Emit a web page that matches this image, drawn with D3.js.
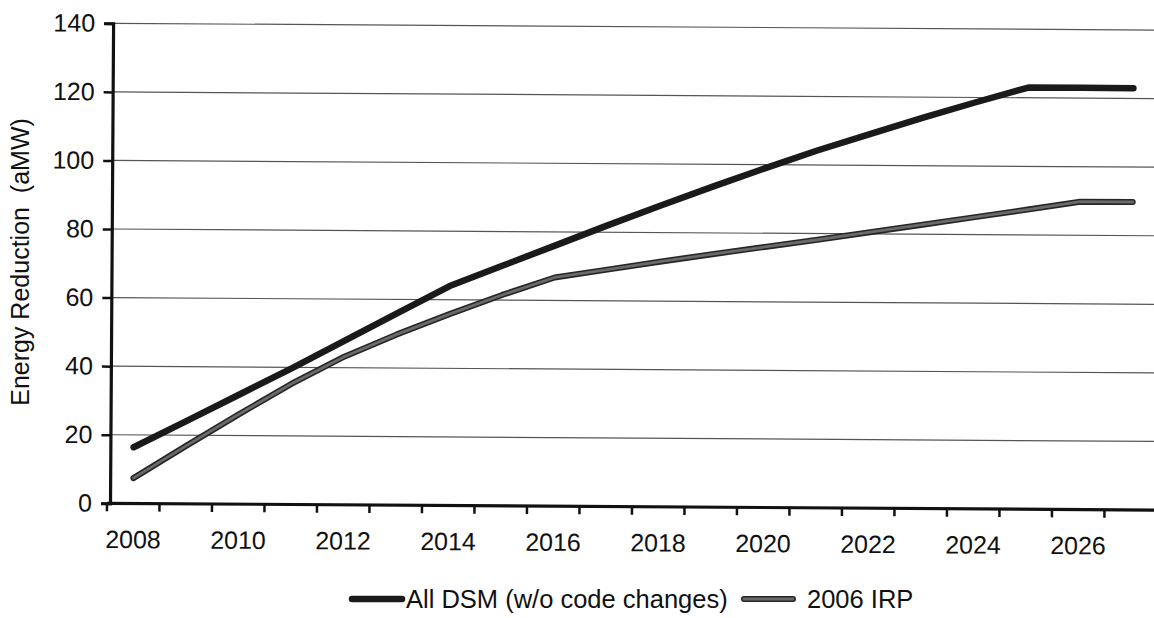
<!DOCTYPE html>
<html>
<head>
<meta charset="utf-8">
<script src="https://cdn.jsdelivr.net/npm/d3@7"></script>
<style>
  html, body { margin: 0; padding: 0; background: #fff; }
  svg { display: block; }
  text { font-family: "Liberation Sans", Arial, sans-serif; fill: #111; }
</style>
</head>
<body>
<svg id="chart" width="1154" height="618"></svg>
<script>
// ---- data ----
const years = [2008, 2009, 2010, 2011, 2012, 2013, 2014, 2015, 2016, 2017,
               2018, 2019, 2020, 2021, 2022, 2023, 2024, 2025, 2026, 2027];
const allDSM = [16.4, 24.1, 31.9, 39.7, 47.8, 55.9, 64, 70, 76, 82,
                87.8, 93.5, 99, 104.3, 109.2, 114, 118.6, 123, 123, 123];
const irp2006 = [7.4, 16.9, 26.2, 35.2, 43.2, 49.8, 55.8, 61.5, 66.7, 69.1,
                 71.5, 73.8, 76, 78.2, 80.5, 82.8, 85.1, 87.4, 89.8, 89.8];
const yTicks = [0, 20, 40, 60, 80, 100, 120, 140];
const xLabels = [2008, 2010, 2012, 2014, 2016, 2018, 2020, 2022, 2024, 2026];
const seriesNames = ["All DSM (w/o code changes)", "2006 IRP"];
const yTitle = "Energy Reduction\u00a0\u00a0(aMW)";

// ---- layout ----
const FS = 25;
const svg = d3.select("#chart");
svg.append("rect").attr("width", 1154).attr("height", 618).attr("fill", "#fff");

const x = d3.scaleBand().domain(years).range([107, 1157]);
const y = d3.scaleLinear().domain([0, 140]).range([503.3, 23.3]);

// slight scan tilt
const g = svg.append("g").attr("transform", "rotate(0.37, 110, 503)");

// gridlines
g.append("g").selectAll("line").data(yTicks.filter(d => d > 0)).join("line")
  .attr("x1", 110).attr("x2", 1170)
  .attr("y1", d => y(d)).attr("y2", d => y(d))
  .attr("stroke", "#555").attr("stroke-width", 1.2);

// y axis
const yAxis = d3.axisLeft(y).tickValues(yTicks).tickSize(9).tickPadding(8);
const ya = g.append("g").attr("transform", "translate(110,0)").call(yAxis);
ya.select(".domain").attr("stroke", "#111").attr("stroke-width", 3.2);
ya.selectAll(".tick line").attr("stroke", "#111").attr("stroke-width", 2.5);
ya.selectAll(".tick text").attr("font-size", FS)
  .attr("font-family", "'Liberation Sans', Arial, sans-serif").attr("fill", "#111")
  .attr("x", -18);

// x axis (category boundaries as ticks)
const bounds = years.map(d => x(d));
g.append("line").attr("x1", 107).attr("x2", 1170)
  .attr("y1", y(0)).attr("y2", y(0))
  .attr("stroke", "#111").attr("stroke-width", 3.2);
g.append("g").selectAll("line").data(bounds).join("line")
  .attr("x1", d => d).attr("x2", d => d)
  .attr("y1", y(0)).attr("y2", y(0) + 8)
  .attr("stroke", "#111").attr("stroke-width", 2.5);
g.append("g").selectAll("text").data(xLabels).join("text")
  .attr("x", d => x(d) + x.bandwidth() / 2)
  .attr("y", 548)
  .attr("text-anchor", "middle")
  .attr("font-size", FS)
  .text(d => d);

// lines
const line = d3.line()
  .x((d, i) => x(years[i]) + x.bandwidth() / 2)
  .y(d => y(d));

g.append("path").datum(irp2006).attr("d", line)
  .attr("fill", "none").attr("stroke", "#262626").attr("stroke-width", 6)
  .attr("stroke-linejoin", "round").attr("stroke-linecap", "round");
g.append("path").datum(irp2006).attr("d", line)
  .attr("fill", "none").attr("stroke", "#6a6a6a").attr("stroke-width", 2.8)
  .attr("stroke-linejoin", "round").attr("stroke-linecap", "round");

g.append("path").datum(allDSM).attr("d", line)
  .attr("fill", "none").attr("stroke", "#1a1a1a").attr("stroke-width", 6.5)
  .attr("stroke-linejoin", "round").attr("stroke-linecap", "round");

// y title
svg.append("text")
  .attr("transform", "translate(29,262) rotate(-90)")
  .attr("text-anchor", "middle")
  .attr("font-size", FS)
  .text(yTitle);

// legend
const LFS = 25.5;
const legend = svg.append("g");
legend.append("line").attr("x1", 352).attr("x2", 402).attr("y1", 599).attr("y2", 599)
  .attr("stroke", "#1a1a1a").attr("stroke-width", 6.5).attr("stroke-linecap", "round");
legend.append("text").attr("x", 406).attr("y", 608).attr("font-size", LFS).text(seriesNames[0]);
legend.append("line").attr("x1", 744).attr("x2", 793).attr("y1", 599).attr("y2", 599)
  .attr("stroke", "#262626").attr("stroke-width", 6).attr("stroke-linecap", "round");
legend.append("line").attr("x1", 744).attr("x2", 793).attr("y1", 599).attr("y2", 599)
  .attr("stroke", "#6a6a6a").attr("stroke-width", 2.8).attr("stroke-linecap", "round");
legend.append("text").attr("x", 807).attr("y", 608).attr("font-size", LFS).text(seriesNames[1]);
</script>
</body>
</html>
